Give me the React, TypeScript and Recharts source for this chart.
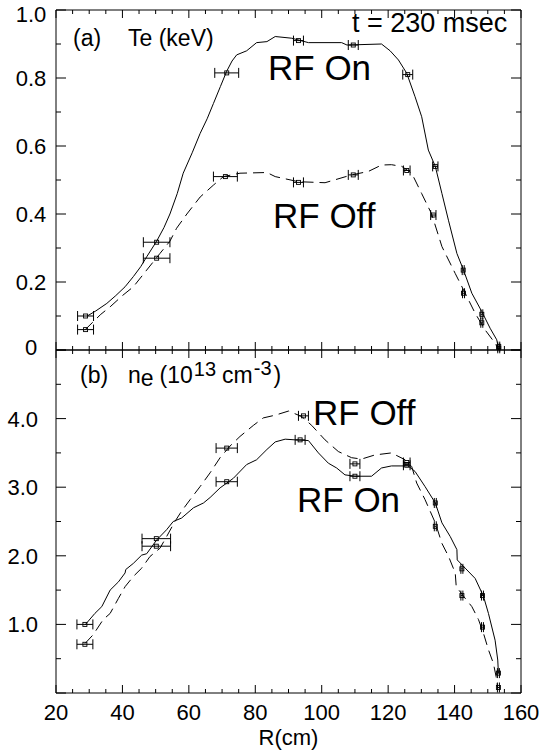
import { ComposedChart, Line, Scatter, ErrorBar, XAxis, YAxis } from 'recharts';

const FONT = '"Liberation Sans", Arial, sans-serif';

// axis ticks
const X_TICKS = [20, 25, 30, 35, 40, 45, 50, 55, 60, 65, 70, 75, 80, 85, 90, 95, 100, 105, 110, 115, 120, 125, 130, 135, 140, 145, 150, 155, 160];
const TE_TICKS = [0, 0.1, 0.2, 0.3, 0.4, 0.5, 0.6, 0.7, 0.8, 0.9, 1.0];
const NE_TICKS = [0, 0.5, 1, 1.5, 2, 2.5, 3, 3.5, 4, 4.5, 5];

// (a) Te profiles, RF on (solid) / RF off (dashed)
const TE_ON_R = [29.4, 32, 35.3, 38, 40.8, 43.3, 45.5, 47.3, 50.3, 52.5, 54.3, 56.5, 58.3, 61, 63.4, 65.5, 67.4, 69.5, 71.4, 73, 74.4, 77.4, 80.4, 83.5, 86, 91, 96, 106, 107.6, 118, 120.6, 123.1, 125.6, 128.1, 130.1, 132.1, 134.2, 136.2, 138.2, 140.7, 142.7, 145.2, 148.2, 150.7, 152.7, 153.3];
const TE_ON = [0.1, 0.115, 0.137, 0.16, 0.186, 0.216, 0.245, 0.274, 0.32, 0.36, 0.4, 0.46, 0.52, 0.58, 0.637, 0.68, 0.725, 0.775, 0.82, 0.85, 0.868, 0.88, 0.904, 0.907, 0.922, 0.917, 0.904, 0.904, 0.897, 0.9, 0.88, 0.853, 0.814, 0.745, 0.686, 0.588, 0.54, 0.46, 0.38, 0.284, 0.235, 0.167, 0.113, 0.064, 0.03, 0.0];
const TE_OFF_R = [28.7, 31.2, 33.5, 36.3, 40, 43.3, 47.3, 51.3, 54.3, 56.3, 59.4, 63.4, 67.4, 70.4, 75.4, 83.5, 86, 93, 101, 109, 114, 118, 121, 124.1, 127.1, 130.1, 133.1, 136.2, 140.2, 143.2, 146.2, 149.2, 152.2, 153.3];
const TE_OFF = [0.059, 0.083, 0.105, 0.127, 0.16, 0.186, 0.235, 0.284, 0.32, 0.358, 0.4, 0.45, 0.485, 0.51, 0.52, 0.522, 0.51, 0.495, 0.492, 0.515, 0.525, 0.544, 0.545, 0.54, 0.52, 0.46, 0.4, 0.304, 0.225, 0.167, 0.108, 0.059, 0.02, 0.0];

// (a) measured points with radial error
const TE_ON_PR = [28.9, 50.3, 71.4, 93, 109.5, 125.9, 134.2, 142.6, 148.2, 153.3];
const TE_ON_P = [0.1, 0.317, 0.815, 0.91, 0.897, 0.81, 0.54, 0.235, 0.105, 0.01];
const TE_ON_E = [2.4, 4, 3.6, 1.5, 1.5, 1.5, 0.8, 0.3, 0.3, 0.3];
const TE_OFF_PR = [28.9, 50.3, 71, 93, 109.5, 125.6, 133.6, 142.7, 148.2, 153.3];
const TE_OFF_P = [0.06, 0.27, 0.51, 0.493, 0.515, 0.528, 0.397, 0.167, 0.08, 0.005];
const TE_OFF_E = [2.4, 4, 3.6, 1.5, 1.5, 1, 0.8, 0.3, 0.3, 0.3];

// (b) ne profiles
const NE_ON_R = [28.7, 31.7, 33.8, 36.3, 38.8, 40.8, 41, 43.3, 45.8, 47.3, 50.3, 53.3, 55.3, 57.8, 61.4, 64.4, 66.4, 69.4, 73.4, 77.4, 80.4, 83.5, 86, 89, 92, 96, 99, 102, 104.5, 107, 110, 115, 118, 121, 126, 128.1, 131.1, 134.2, 136.2, 138.7, 140.7, 140.8, 143.2, 146.2, 148.7, 150.2, 152.2, 153, 153.2];
const NE_ON = [0.99, 1.16, 1.26, 1.5, 1.62, 1.75, 1.8, 1.89, 2.01, 2.03, 2.23, 2.38, 2.5, 2.55, 2.7, 2.77, 2.85, 2.99, 3.13, 3.33, 3.4, 3.55, 3.66, 3.7, 3.69, 3.68, 3.5, 3.35, 3.28, 3.18, 3.16, 3.16, 3.28, 3.31, 3.31, 3.23, 3.01, 2.77, 2.48, 2.28, 2.09, 1.94, 1.82, 1.67, 1.41, 1.16, 0.77, 0.48, 0.29];
const NE_OFF_R = [28.7, 31.2, 34.2, 36.3, 38.8, 40.8, 43.3, 45.8, 48.3, 51.3, 53.3, 55.8, 57.8, 60.4, 63.4, 66.4, 69.4, 72.4, 75.4, 79.4, 82.4, 86, 90, 94, 97, 101, 105, 109, 112, 116, 121, 125.1, 127.1, 128.6, 131.1, 134.2, 136.2, 138.2, 140.2, 140.5, 143.2, 145.2, 147.2, 148.7, 150.2, 151.7, 152.5, 153];
const NE_OFF = [0.72, 0.85, 1.07, 1.16, 1.38, 1.55, 1.7, 1.82, 1.99, 2.11, 2.28, 2.5, 2.65, 2.82, 3.01, 3.21, 3.43, 3.6, 3.74, 3.9, 4.01, 4.05, 4.11, 4.03, 3.9, 3.69, 3.52, 3.43, 3.41, 3.47, 3.5, 3.4, 3.3, 3.06, 2.82, 2.48, 2.18, 1.99, 1.75, 1.55, 1.38, 1.26, 1.07, 0.87, 0.63, 0.43, 0.24, 0.07];

const NE_ON_PR = [28.7, 50.2, 71.4, 93.5, 110, 125.6, 134.2, 142.2, 148.4, 153.2];
const NE_ON_P = [1.0, 2.25, 3.08, 3.69, 3.16, 3.32, 2.77, 1.81, 1.42, 0.29];
const NE_ON_E = [2.4, 4.3, 3.2, 1.5, 1.5, 1, 0.3, 0.3, 0.3, 0.3];
const NE_OFF_PR = [28.7, 50.2, 71.4, 94.5, 110, 125.6, 134.2, 142.2, 148.4, 153.2];
const NE_OFF_P = [0.71, 2.14, 3.57, 4.04, 3.34, 3.36, 2.43, 1.42, 0.96, 0.08];
const NE_OFF_E = [2.4, 4.3, 3.2, 1.5, 1.5, 1, 0.3, 0.3, 0.3, 0.3];

const zip = (r: number[], v: number[], e?: number[]) =>
  r.map((x, i) => ({ r: x, v: v[i], xe: e ? e[i] : 0 }));

const isMajor = (v: number, step: number) => Math.abs(v / step - Math.round(v / step)) < 1e-6;

const bottomTick = (labels: boolean) => (p: any) => {
  const v = p.payload.value;
  const major = isMajor(v, 20);
  return (
    <g>
      <line x1={p.x} y1={p.y} x2={p.x} y2={p.y - (major ? 8 : 4)} stroke="#000" />
      {labels && major && (
        <text x={p.x} y={p.y + 27} textAnchor="middle" fontSize={22} fontFamily={FONT} fill="#000">{v}</text>
      )}
    </g>
  );
};

const topTick = (p: any) => {
  const major = isMajor(p.payload.value, 20);
  return <line x1={p.x} y1={p.y} x2={p.x} y2={p.y + (major ? 8 : 4)} stroke="#000" />;
};

// labels at the ends are nudged inward, as in the figure
const leftTick = (step: number, fmt: (v: number) => string | null, lx: number, anchor: 'middle' | 'end', lo: number, hi: number) => (p: any) => {
  const v = p.payload.value;
  const major = isMajor(v, step);
  const txt = major ? fmt(v) : null;
  const ly = Math.min(Math.max(p.y, lo), hi);
  return (
    <g>
      <line x1={p.x} y1={p.y} x2={p.x + (major ? 10 : 5)} y2={p.y} stroke="#000" />
      {txt && (
        <text x={lx} y={ly} dy="0.36em" textAnchor={anchor} fontSize={22} fontFamily={FONT} fill="#000">{txt}</text>
      )}
    </g>
  );
};

const rightTick = (step: number) => (p: any) => {
  const major = isMajor(p.payload.value, step);
  return <line x1={p.x} y1={p.y} x2={p.x - (major ? 10 : 5)} y2={p.y} stroke="#000" />;
};

const Box = (p: any) => (
  <rect x={p.cx - 2} y={p.cy - 2} width={4} height={4} fill="none" stroke="#000" strokeWidth={0.9} />
);

const txt = (left: number, base: number, size: number, content: any) => (
  <div style={{ position: 'absolute', left, top: base - 0.8465 * size, fontSize: size, lineHeight: 1, whiteSpace: 'nowrap', color: '#000' }}>
    {content}
  </div>
);

function Series({ on, off, onPts, offPts }: any) {
  return [
    <Line key="on" xAxisId="b" yAxisId="l" data={on} dataKey="v" type="linear" stroke="#000" strokeWidth={1} dot={false} isAnimationActive={false} />,
    <Line key="off" xAxisId="b" yAxisId="l" data={off} dataKey="v" type="linear" stroke="#000" strokeWidth={1} strokeDasharray="11 6" dot={false} isAnimationActive={false} />,
    <Scatter key="onp" xAxisId="b" yAxisId="l" data={onPts} dataKey="v" shape={Box} isAnimationActive={false}>
      <ErrorBar dataKey="xe" direction="x" width={5} stroke="#000" strokeWidth={1} isAnimationActive={false} />
    </Scatter>,
    <Scatter key="offp" xAxisId="b" yAxisId="l" data={offPts} dataKey="v" shape={Box} isAnimationActive={false}>
      <ErrorBar dataKey="xe" direction="x" width={5} stroke="#000" strokeWidth={1} isAnimationActive={false} />
    </Scatter>,
  ];
}

export default function App() {
  const teOn = zip(TE_ON_R, TE_ON);
  const teOff = zip(TE_OFF_R, TE_OFF);
  const neOn = zip(NE_ON_R, NE_ON);
  const neOff = zip(NE_OFF_R, NE_OFF);

  return (
    <div style={{ position: 'absolute', left: 0, top: 0, width: 550, height: 751, background: '#fff', fontFamily: FONT }}>
      <div style={{ position: 'absolute', left: 0, top: 0 }}>
        <ComposedChart width={550} height={380} margin={{ top: 0, right: 0, bottom: 20, left: 0 }}>
          <XAxis xAxisId="t" orientation="top" type="number" dataKey="r" domain={[20, 160]} ticks={X_TICKS} interval={0} allowDataOverflow height={10} tickSize={0} tickMargin={0} tickLine={false} axisLine={{ stroke: '#000' }} tick={topTick} />
          <XAxis xAxisId="b" orientation="bottom" type="number" dataKey="r" domain={[20, 160]} ticks={X_TICKS} interval={0} allowDataOverflow height={10} tickSize={0} tickMargin={0} tickLine={false} axisLine={{ stroke: '#000' }} tick={bottomTick(false)} />
          <YAxis yAxisId="l" orientation="left" type="number" dataKey="v" domain={[0, 1]} ticks={TE_TICKS} interval={0} allowDataOverflow width={56} tickSize={0} tickMargin={0} tickLine={false} axisLine={{ stroke: '#000' }}
            tick={leftTick(0.2, (v) => (v === 0 ? '0' : v.toFixed(1)), 31, 'middle', 14, 347)} />
          <YAxis yAxisId="r" orientation="right" type="number" domain={[0, 1]} ticks={TE_TICKS} interval={0} allowDataOverflow width={29} tickSize={0} tickMargin={0} tickLine={false} axisLine={{ stroke: '#000' }} tick={rightTick(0.2)} />
          {Series({ on: teOn, off: teOff, onPts: zip(TE_ON_PR, TE_ON_P, TE_ON_E), offPts: zip(TE_OFF_PR, TE_OFF_P, TE_OFF_E) })}
        </ComposedChart>
      </div>

      <div style={{ position: 'absolute', left: 0, top: 340 }}>
        <ComposedChart width={550} height={411} margin={{ top: 0, right: 0, bottom: 0, left: 0 }}>
          <XAxis xAxisId="t" orientation="top" type="number" dataKey="r" domain={[20, 160]} ticks={X_TICKS} interval={0} allowDataOverflow height={10} tickSize={0} tickMargin={0} tickLine={false} axisLine={{ stroke: '#000' }} tick={topTick} />
          <XAxis xAxisId="b" orientation="bottom" type="number" dataKey="r" domain={[20, 160]} ticks={X_TICKS} interval={0} allowDataOverflow height={58} tickSize={0} tickMargin={0} tickLine={false} axisLine={{ stroke: '#000' }} tick={bottomTick(true)}
            label={{ value: 'R(cm)', position: 'insideBottom', offset: 6, fontSize: 22, fontFamily: FONT, fill: '#000' }} />
          <YAxis yAxisId="l" orientation="left" type="number" dataKey="v" domain={[0, 5]} ticks={NE_TICKS} interval={0} allowDataOverflow width={56} tickSize={0} tickMargin={0} tickLine={false} axisLine={{ stroke: '#000' }}
            tick={leftTick(1, (v) => (v === 0 || v === 5 ? null : v.toFixed(1)), 38, 'end', 0, 1000)} />
          <YAxis yAxisId="r" orientation="right" type="number" domain={[0, 5]} ticks={NE_TICKS} interval={0} allowDataOverflow width={29} tickSize={0} tickMargin={0} tickLine={false} axisLine={{ stroke: '#000' }} tick={rightTick(1)} />
          {Series({ on: neOn, off: neOff, onPts: zip(NE_ON_PR, NE_ON_P, NE_ON_E), offPts: zip(NE_OFF_PR, NE_OFF_P, NE_OFF_E) })}
        </ComposedChart>
      </div>

      {txt(73, 46.5, 23, '(a)')}
      {txt(128, 46.5, 23, 'Te (keV)')}
      {txt(352, 33.3, 27, 't = 230 msec')}
      {txt(268, 80, 35, 'RF On')}
      {txt(273, 228, 35, 'RF Off')}
      {txt(80, 383, 23, '(b)')}
      {txt(128, 383, 23, (
        <>
          n<span style={{ position: 'relative', top: 3 }}>e</span>
          <span style={{ marginLeft: 6 }}>(10</span>
          <span style={{ position: 'relative', top: -7, fontSize: 20, marginLeft: 1 }}>13</span>
          <span style={{ marginLeft: 6 }}>cm</span>
          <span style={{ position: 'relative', top: -8, fontSize: 20, marginLeft: 1 }}>-3</span>
          <span style={{ marginLeft: 2 }}>)</span>
        </>
      ))}
      {txt(313, 425, 35, 'RF Off')}
      {txt(297, 511.7, 35, 'RF On')}
    </div>
  );
}
